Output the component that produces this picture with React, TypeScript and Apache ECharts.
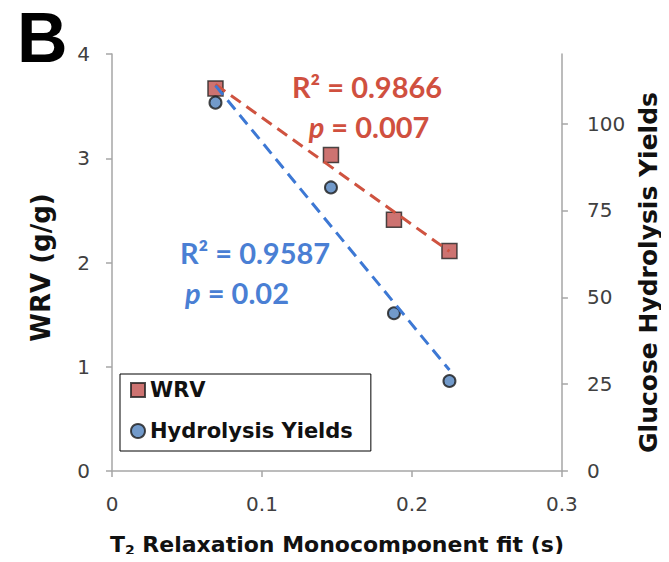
import React, { useEffect, useRef } from "react";
import * as echarts from "echarts";

// T2 relaxation (s) for the four samples
const t2Values = [0.069, 0.146, 0.188, 0.225];
// Water retention value (g/g)
const wrvValues = [3.67, 3.03, 2.41, 2.11];
// Glucose hydrolysis yields
const yieldValues = [106, 81.6, 45.4, 25.9];

const xTicks = [0, 0.1, 0.2, 0.3];
const leftTicks = [0, 1, 2, 3, 4];
const rightTicks = [0, 25, 50, 75, 100];

const RED = "#c0504d";
const RED_LINE = "#cf5340";
const RED_TEXT = "#d0503f";
const BLUE = "#4f81bd";
const BLUE_LINE = "#3d78d4";
const BLUE_TEXT = "#4a7fd4";
const AXIS = "#a6a6a6";
const LABEL = "#404040";
const TITLE = "#111111";
const SANS = "'DejaVu Sans', Verdana, sans-serif";
const NOTE = "Lato, 'Open Sans', sans-serif";

// Ordinary least squares fit, returned as a two-point segment over the data range
function fitLine(xs: number[], ys: number[]): number[][] {
  const n = xs.length;
  const mx = xs.reduce((a, b) => a + b, 0) / n;
  const my = ys.reduce((a, b) => a + b, 0) / n;
  let sxy = 0;
  let sxx = 0;
  for (let i = 0; i < n; i++) {
    sxy += (xs[i] - mx) * (ys[i] - my);
    sxx += (xs[i] - mx) * (xs[i] - mx);
  }
  const slope = sxy / sxx;
  const x0 = Math.min(...xs);
  const x1 = Math.max(...xs);
  return [
    [x0, my + slope * (x0 - mx)],
    [x1, my + slope * (x1 - mx)],
  ];
}

export default function App() {
  const ref = useRef<HTMLDivElement>(null);

  useEffect(() => {
    if (!ref.current) return;
    const chart = echarts.init(ref.current, null, { renderer: "svg" });

    const wrvPoints = t2Values.map((x, i) => [x, wrvValues[i]]);
    const yieldPoints = t2Values.map((x, i) => [x, yieldValues[i]]);

    chart.setOption({
      animation: false,
      backgroundColor: "#ffffff",
      grid: { left: 112, right: 102, top: 54, bottom: 90 },
      legend: {
        left: 120,
        top: 374,
        orient: "vertical",
        backgroundColor: "#ffffff",
        borderColor: "#000000",
        borderWidth: 1,
        borderRadius: 0,
        padding: [4, 18, 8, 10],
        itemGap: 17,
        itemWidth: 14,
        itemHeight: 14,
        textStyle: {
          fontFamily: SANS,
          fontWeight: "bold",
          fontSize: 21,
          lineHeight: 24,
          color: TITLE,
        },
        data: [
          { name: "WRV", icon: "rect" },
          { name: "Hydrolysis Yields", icon: "circle" },
        ],
      },
      xAxis: {
        type: "value",
        min: xTicks[0],
        max: xTicks[xTicks.length - 1],
        interval: 0.1,
        splitLine: { show: false },
        axisLine: { onZero: false, lineStyle: { color: AXIS, width: 1.5 } },
        axisTick: { show: true, length: 6, lineStyle: { color: AXIS, width: 1.5 } },
        axisLabel: {
          margin: 23,
          fontFamily: SANS,
          fontSize: 20,
          color: LABEL,
          formatter: (v: number) => String(Math.round(v * 10) / 10),
        },
        name: "T{sub|2} Relaxation Monocomponent fit (s)",
        nameLocation: "middle",
        nameGap: 60,
        nameTextStyle: {
          fontFamily: SANS,
          fontWeight: "bold",
          fontSize: 22,
          lineHeight: 26,
          color: TITLE,
          rich: {
            sub: {
              fontFamily: SANS,
              fontWeight: "bold",
              fontSize: 14,
              lineHeight: 12,
              verticalAlign: "bottom",
              color: TITLE,
            },
          },
        },
      },
      yAxis: [
        {
          type: "value",
          position: "left",
          min: leftTicks[0],
          max: leftTicks[leftTicks.length - 1],
          interval: 1,
          splitLine: { show: false },
          axisLine: { show: true, lineStyle: { color: AXIS, width: 1.5 } },
          axisTick: { show: true, length: 6, lineStyle: { color: AXIS, width: 1.5 } },
          axisLabel: { margin: 22, fontFamily: SANS, fontSize: 20, color: LABEL },
          name: "WRV (g/g)",
          nameLocation: "middle",
          nameRotate: 90,
          nameGap: 58,
          nameTextStyle: {
            fontFamily: SANS,
            fontWeight: "bold",
            fontSize: 26,
            color: TITLE,
            padding: [0, 10, 0, 0],
          },
        },
        {
          type: "value",
          position: "right",
          min: 0,
          max: 120,
          interval: 25,
          splitLine: { show: false },
          axisLine: { show: true, lineStyle: { color: AXIS, width: 1.5 } },
          axisTick: {
            show: true,
            length: 6,
            customValues: rightTicks,
            lineStyle: { color: AXIS, width: 1.5 },
          },
          axisLabel: {
            margin: 25,
            fontFamily: SANS,
            fontSize: 20,
            color: LABEL,
            customValues: rightTicks,
          },
          name: "Glucose Hydrolysis Yields",
          nameLocation: "middle",
          nameRotate: 90,
          nameGap: 71,
          nameTextStyle: {
            fontFamily: SANS,
            fontWeight: "bold",
            fontSize: 25,
            color: TITLE,
            padding: [0, 20, 0, 0],
          },
        },
      ],
      series: [
        {
          name: "WRV",
          type: "scatter",
          yAxisIndex: 0,
          symbol: "rect",
          symbolSize: 15,
          z: 2,
          itemStyle: { color: RED, borderColor: "#222222", borderWidth: 1.5 },
          data: wrvPoints,
        },
        {
          name: "Hydrolysis Yields",
          type: "scatter",
          yAxisIndex: 1,
          symbol: "circle",
          symbolSize: 12,
          z: 2,
          itemStyle: { color: BLUE, borderColor: "#1a1a1a", borderWidth: 2 },
          data: yieldPoints,
        },
        {
          name: "WRV fit",
          type: "line",
          yAxisIndex: 0,
          showSymbol: false,
          symbol: "none",
          z: 3,
          lineStyle: { color: RED_LINE, width: 3, type: [12, 7] },
          data: fitLine(t2Values, wrvValues),
        },
        {
          name: "Yield fit",
          type: "line",
          yAxisIndex: 1,
          showSymbol: false,
          symbol: "none",
          z: 3,
          lineStyle: { color: BLUE_LINE, width: 3, type: [12, 7] },
          data: fitLine(t2Values, yieldValues),
        },
      ],
      graphic: [
        {
          type: "text",
          x: 17,
          y: 38,
          style: {
            text: "B",
            fill: "#000000",
            font: "bold 70px 'Liberation Sans', Arial, sans-serif",
            lineHeight: 70,
            align: "left",
            verticalAlign: "middle",
          },
        },
        {
          type: "text",
          x: 367,
          y: 86,
          style: {
            text: "R² = 0.9866",
            fill: RED_TEXT,
            font: `bold 29px ${NOTE}`,
            align: "center",
            verticalAlign: "middle",
          },
        },
        {
          type: "text",
          x: 369,
          y: 126,
          style: {
            text: "{i|p} = 0.007",
            fill: RED_TEXT,
            font: `bold 29px ${NOTE}`,
            align: "center",
            verticalAlign: "middle",
            rich: {
              i: { fill: RED_TEXT, font: `italic bold 29px ${NOTE}` },
            },
          },
        },
        {
          type: "text",
          x: 255,
          y: 252,
          style: {
            text: "R² = 0.9587",
            fill: BLUE_TEXT,
            font: `bold 29px ${NOTE}`,
            align: "center",
            verticalAlign: "middle",
          },
        },
        {
          type: "text",
          x: 237,
          y: 292,
          style: {
            text: "{i|p} = 0.02",
            fill: BLUE_TEXT,
            font: `bold 29px ${NOTE}`,
            align: "center",
            verticalAlign: "middle",
            rich: {
              i: { fill: BLUE_TEXT, font: `italic bold 29px ${NOTE}` },
            },
          },
        },
      ],
    });

    return () => chart.dispose();
  }, []);

  return <div ref={ref} style={{ width: 669, height: 562, margin: -8 }} />;
}
